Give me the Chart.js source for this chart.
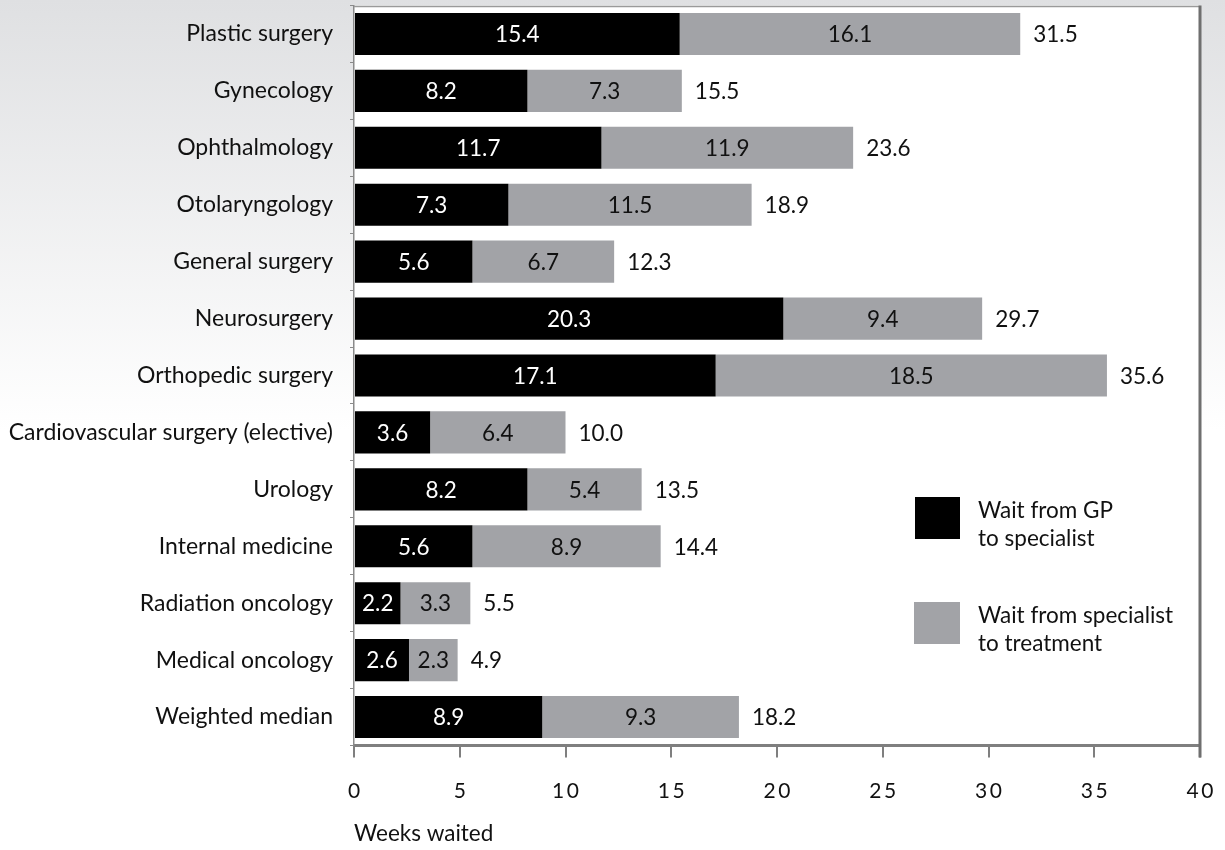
<!DOCTYPE html>
<html>
<head>
<meta charset="utf-8">
<script src="https://cdn.jsdelivr.net/npm/chart.js@4/dist/chart.umd.min.js"></script>
<style>
  html, body { margin: 0; padding: 0; background: #fff; }
  #wrap { width: 1225px; height: 850px; }
</style>
</head>
<body>
<div id="wrap"><canvas id="chart" width="1225" height="850"></canvas></div>
<script>
const categories = [
  'Plastic surgery', 'Gynecology', 'Ophthalmology', 'Otolaryngology',
  'General surgery', 'Neurosurgery', 'Orthopedic surgery',
  'Cardiovascular surgery (elective)', 'Urology', 'Internal medicine',
  'Radiation oncology', 'Medical oncology', 'Weighted median'
];
const gpToSpecialist = [15.4, 8.2, 11.7, 7.3, 5.6, 20.3, 17.1, 3.6, 8.2, 5.6, 2.2, 2.6, 8.9];
const specialistToTreatment = [16.1, 7.3, 11.9, 11.5, 6.7, 9.4, 18.5, 6.4, 5.4, 8.9, 3.3, 2.3, 9.3];
const totals = [31.5, 15.5, 23.6, 18.9, 12.3, 29.7, 35.6, 10.0, 13.5, 14.4, 5.5, 4.9, 18.2];
const xTicks = [0, 5, 10, 15, 20, 25, 30, 35, 40];
const seriesNames = [['Wait from GP', 'to specialist'], ['Wait from specialist', 'to treatment']];

const FONT = 'Lato';
const GREY = '#a2a3a7';
const AXIS = '#7f7f7f';

// page background: grey fading to white, plot area white
const backdrop = {
  id: 'backdrop',
  beforeDraw(chart) {
    const { ctx, chartArea: a, width, height } = chart;
    ctx.save();
    const g = ctx.createLinearGradient(0, 0, 0, 430);
    g.addColorStop(0, '#dfe0e2');
    g.addColorStop(1, '#ffffff');
    ctx.fillStyle = g;
    ctx.fillRect(0, 0, width, height);
    ctx.fillStyle = '#fff';
    ctx.fillRect(a.left, a.top, a.right - a.left, a.bottom - a.top);
    ctx.restore();
  }
};

// top and right frame lines
const frame = {
  id: 'frame',
  afterDatasetsDraw(chart) {
    const { ctx, chartArea: a } = chart;
    ctx.save();
    ctx.strokeStyle = '#9a9a9a';
    ctx.lineWidth = 1.5;
    ctx.beginPath();
    ctx.moveTo(a.left, a.top + 1);
    ctx.lineTo(a.right, a.top + 1);
    ctx.stroke();
    ctx.strokeStyle = '#6f6f6f';
    ctx.lineWidth = 3;
    ctx.beginPath();
    ctx.moveTo(a.right, a.top);
    ctx.lineTo(a.right, a.bottom + 12);
    ctx.stroke();
    ctx.restore();
  }
};

const valueLabels = {
  id: 'valueLabels',
  afterDatasetsDraw(chart) {
    const { ctx } = chart;
    ctx.save();
    ctx.font = `22.5px ${FONT}`;
    ctx.textBaseline = 'middle';
    chart.data.datasets.forEach((ds, di) => {
      const meta = chart.getDatasetMeta(di);
      meta.data.forEach((bar, i) => {
        ctx.textAlign = 'center';
        ctx.fillStyle = di === 0 ? '#fff' : '#111';
        ctx.fillText(ds.data[i].toFixed(1), (bar.x + bar.base) / 2, bar.y + 1);
        if (di === chart.data.datasets.length - 1) {
          ctx.textAlign = 'left';
          ctx.fillStyle = '#111';
          ctx.fillText(totals[i].toFixed(1), bar.x + 13, bar.y + 1);
        }
      });
    });
    ctx.restore();
  }
};

const sideLegend = {
  id: 'sideLegend',
  afterDraw(chart) {
    const { ctx } = chart;
    const boxes = [[915, 497], [914, 602]];
    ctx.save();
    ctx.font = `22.5px ${FONT}`;
    ctx.textAlign = 'left';
    ctx.textBaseline = 'alphabetic';
    chart.data.datasets.forEach((ds, di) => {
      const [bx, by] = boxes[di];
      ctx.fillStyle = ds.backgroundColor;
      ctx.fillRect(bx, by, 960 - bx, 42);
      ctx.fillStyle = '#111';
      seriesNames[di].forEach((line, li) => {
        ctx.fillText(line, 978, by + 21 + li * 28);
      });
    });
    ctx.restore();
  }
};

new Chart(document.getElementById('chart'), {
  type: 'bar',
  data: {
    labels: categories,
    datasets: [
      { label: seriesNames[0].join(' '), data: gpToSpecialist, backgroundColor: '#000000' },
      { label: seriesNames[1].join(' '), data: specialistToTreatment, backgroundColor: GREY }
    ]
  },
  options: {
    indexAxis: 'y',
    responsive: false,
    animation: false,
    barPercentage: 0.74,
    categoryPercentage: 1.0,
    layout: { padding: { top: 5.5, right: 25, bottom: 0, left: 0 } },
    plugins: { legend: { display: false }, tooltip: { enabled: false } },
    scales: {
      x: {
        type: 'linear',
        stacked: true,
        min: 0,
        max: 40,
        afterBuildTicks: s => { s.ticks = xTicks.map(v => ({ value: v })); },
        afterFit: s => { s.height = 104.5; s.paddingLeft = 0; s.paddingRight = 0; },
        grid: { drawOnChartArea: false, drawTicks: true, tickLength: 12, color: AXIS, lineWidth: 2 },
        border: { display: true, color: AXIS, width: 3 },
        ticks: {
          color: '#111',
          padding: 21,
          font: { family: FONT, size: 21 },
          callback: v => String(v).split('').join('\u2009')
        },
        title: {
          display: true,
          text: 'Weeks waited',
          align: 'start',
          color: '#111',
          font: { family: FONT, size: 22.5 },
          padding: { top: 0, bottom: 3 }
        }
      },
      y: {
        stacked: true,
        afterFit: s => { s.width = 354; s.paddingTop = 0; s.paddingBottom = 0; },
        grid: { offset: true, drawOnChartArea: false, tickLength: 4, color: '#8a8a8a', lineWidth: 1 },
        border: { display: true, color: '#8a8a8a', width: 1.5 },
        ticks: { color: '#111', padding: 17, font: { family: FONT, size: 23 } }
      }
    }
  },
  plugins: [backdrop, frame, valueLabels, sideLegend]
});
</script>
</body>
</html>
